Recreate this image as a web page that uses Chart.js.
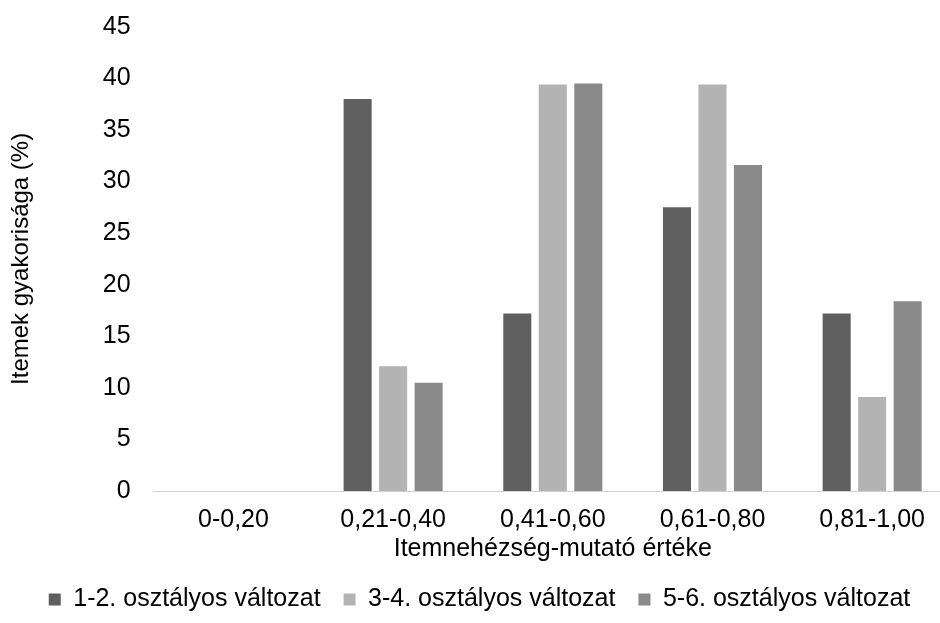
<!DOCTYPE html>
<html>
<head>
<meta charset="utf-8">
<script src="https://cdn.jsdelivr.net/npm/chart.js@4.4.0/dist/chart.umd.min.js"></script>
<style>
  html, body { margin: 0; padding: 0; background: #fff; overflow: hidden; }
  /* the plot area of the reference runs a little past the right edge of the picture */
  #wrap { width: 952px; height: 623px; }
</style>
</head>
<body>
<div id="wrap"><canvas id="chart"></canvas></div>
<script>
const categories = ["0-0,20", "0,21-0,40", "0,41-0,60", "0,61-0,80", "0,81-1,00"];
const grade12 = [0, 38, 17.2, 27.5, 17.2];
const grade34 = [0, 12.1, 39.4, 39.4, 9.1];
const grade56 = [0, 10.5, 39.5, 31.6, 18.4];
const seriesNames = ["1-2. osztályos változat", "3-4. osztályos változat", "5-6. osztályos változat"];
const yTicks = [0, 5, 10, 15, 20, 25, 30, 35, 40, 45];

const fontFamily = "'Liberation Sans', Arial, sans-serif";
const textColor = "#000";
const fontSize = 25;

new Chart(document.getElementById("chart"), {
  type: "bar",
  data: {
    labels: categories,
    datasets: [
      { label: seriesNames[0], data: grade12, backgroundColor: "#5f5f5f" },
      { label: seriesNames[1], data: grade34, backgroundColor: "#b3b3b3" },
      { label: seriesNames[2], data: grade56, backgroundColor: "#8a8a8a" },
    ],
  },
  options: {
    responsive: true,
    maintainAspectRatio: false,
    animation: false,
    datasets: { bar: { categoryPercentage: 0.667, barPercentage: 0.79 } },
    layout: { padding: { top: 0, right: 0, left: 7, bottom: 1 } },
    plugins: {
      legend: {
        position: "bottom",
        labels: {
          boxWidth: 12,
          boxHeight: 12,
          padding: 23,
          color: textColor,
          font: { family: fontFamily, size: fontSize },
        },
      },
      tooltip: { enabled: false },
    },
    scales: {
      x: {
        grid: { display: false, drawTicks: false },
        border: { color: "#d0d0d0", width: 1 },
        ticks: { color: textColor, padding: 14, font: { family: fontFamily, size: fontSize } },
        title: {
          display: true,
          text: "Itemnehézség-mutató értéke",
          color: textColor,
          // pulls the title up closer to the tick labels
          padding: { top: -15, bottom: 0 },
          font: { family: fontFamily, size: fontSize },
        },
      },
      y: {
        min: 0,
        max: 45,
        afterBuildTicks: (axis) => { axis.ticks = yTicks.map((v) => ({ value: v })); },
        grid: { display: false, drawTicks: false },
        border: { display: false },
        // small lineHeight so the top label does not push the plot down
        ticks: { color: textColor, padding: 23, font: { family: fontFamily, size: fontSize, lineHeight: 0.3 } },
        title: {
          display: true,
          text: "Itemek gyakorisága (%)",
          color: textColor,
          padding: { top: 0, bottom: 44 },
          font: { family: fontFamily, size: 24 },
        },
      },
    },
  },
});
</script>
</body>
</html>
